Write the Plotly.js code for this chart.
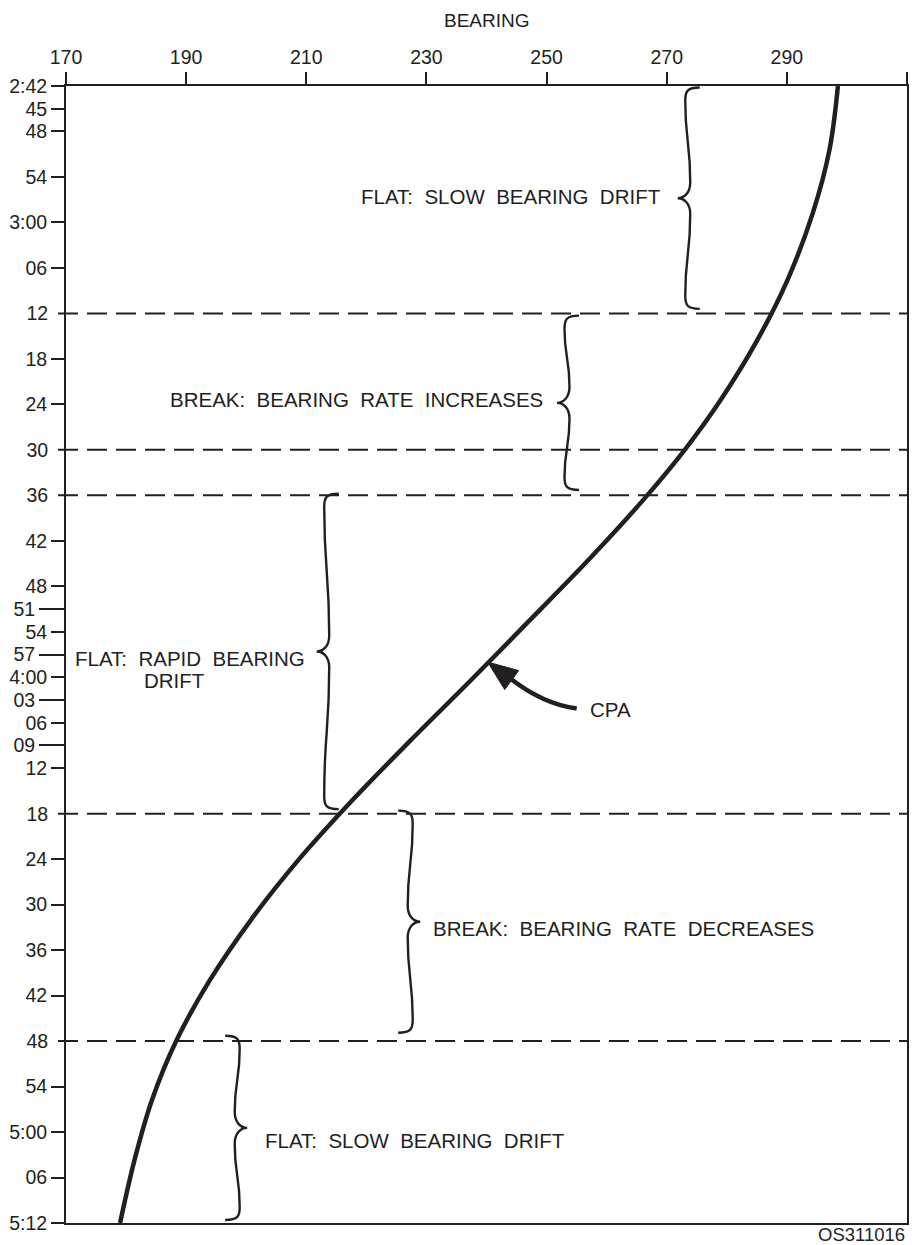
<!DOCTYPE html>
<html>
<head>
<meta charset="utf-8">
<script src="https://cdn.plot.ly/plotly-3.0.1.min.js"></script>
<style>html,body{margin:0;padding:0;background:#fff;}#chart{width:922px;height:1245px;}</style>
</head>
<body>
<div id="chart"></div>
<script>
// ---------- data ----------
// time in minutes after 2:42, bearing in degrees
const timeMin = [0, 8.4, 16.8, 25.6, 33.5, 41.4, 48.0, 54.6, 62.5, 70.4, 78.4, 86.3, 94.2, 102.1, 110.0, 117.9, 125.9, 133.8, 141.7, 150];
const bearing = [298.5, 297.1, 294.3, 290.1, 285.1, 279.0, 273.0, 266.1, 257.0, 247.3, 237.4, 227.4, 217.7, 208.7, 200.8, 194.0, 188.4, 184.3, 181.4, 179.0];

const bearingTicks = [170, 190, 210, 230, 250, 270, 290, 310];

const normalTickT = [0, 3, 6, 12, 18, 24, 36, 42, 60, 66, 72, 78, 84, 90, 102, 108, 114, 120, 132, 138, 144, 150];
const normalTickText = ['2:42', '45', '48', '54', '3:00', '06', '18', '24', '42', '48', '54', '4:00', '06', '12', '24', '30', '36', '42', '54', '5:00', '06', '5:12'];
const longTickT = [69, 75, 81, 87];
const longTickText = ['51', '57', '03', '09'];
const breakLineT = [30, 48, 54, 96, 126];
const breakLineText = ['12', '30', '36', '18', '48'];

// brackets: start / end time (min), spine bearing, tip direction
const braceStartT = [0.2, 30.3, 53.8, 95.6, 125.3];
const braceEndT = [29.4, 53.3, 95.4, 124.9, 149.6];
const braceSpineB = [273.5, 253.4, 213.4, 227.3, 198.5];
const braceTipDir = [-1, -1, -1, 1, 1];

const cpaT = 76, cpaB = 240.2;

// ---------- layout constants ----------
const W = 922, H = 1245;
const M = {l: 66, r: 15, t: 86, b: 22};
const plotW = W - M.l - M.r, plotH = H - M.t - M.b;
const PXB = plotW / 140;   // px per degree
const PXT = plotH / 150;   // px per minute
const dB = px => px / PXB;
const dT = px => px / PXT;
const INK = '#231f20';
const FONT = '"Liberation Sans", Arial, Helvetica, sans-serif';
const SP = '\u00a0 ';

function bracePath(t0, t1, s, dir) {
  const e = -dir * dB(12), d = dir * dB(10), b = dir * dB(2.5);
  const r = dT(13), rt = dT(16);
  const tm = (t0 + t1) / 2;
  const L1 = (tm - rt) - (t0 + r);
  const L2 = (t1 - r) - (tm + rt);
  return 'M' + (s + e) + ',' + t0 +
    ' C' + (s + e * 0.15 + b) + ',' + t0 + ' ' + (s + b) + ',' + (t0 + r * 0.3) + ' ' + (s + b) + ',' + (t0 + r) +
    ' C' + (s + b) + ',' + (t0 + r + L1 * 0.5) + ' ' + (s - b) + ',' + (tm - rt - L1 * 0.5) + ' ' + (s - b) + ',' + (tm - rt) +
    ' C' + (s - b) + ',' + (tm - rt * 0.3) + ' ' + (s + d * 0.4) + ',' + tm + ' ' + (s + d) + ',' + tm +
    ' C' + (s + d * 0.4) + ',' + tm + ' ' + (s - b) + ',' + (tm + rt * 0.3) + ' ' + (s - b) + ',' + (tm + rt) +
    ' C' + (s - b) + ',' + (tm + rt + L2 * 0.5) + ' ' + (s + b) + ',' + (t1 - r - L2 * 0.5) + ' ' + (s + b) + ',' + (t1 - r) +
    ' C' + (s + b) + ',' + (t1 - r * 0.3) + ' ' + (s + e * 0.15 + b) + ',' + t1 + ' ' + (s + e) + ',' + t1;
}

const shapes = [];
breakLineT.forEach(t => shapes.push({
  type: 'line', xref: 'paper', yref: 'y', x0: -8 / plotW, x1: 1, y0: t, y1: t,
  line: {color: INK, width: 2, dash: '20px,9px'}, layer: 'below'
}));
braceStartT.forEach((t0, i) => shapes.push({
  type: 'path', xref: 'x', yref: 'y',
  path: bracePath(t0, braceEndT[i], braceSpineB[i], braceTipDir[i]),
  line: {color: INK, width: 2.4}
}));

// CPA arrow (pixel offsets from the CPA point)
const P = (dx, dy) => (cpaB + dB(dx)) + ',' + (cpaT + dT(dy));
shapes.push({
  type: 'path', xref: 'x', yref: 'y',
  path: 'M' + P(0, 0) + ' L' + P(31, 8.5) + ' L' + P(17, 27.5) + ' Z',
  fillcolor: INK, line: {color: INK, width: 1}
});
shapes.push({
  type: 'path', xref: 'x', yref: 'y',
  path: 'M' + P(22, 16) + ' Q' + P(55, 42) + ' ' + P(89, 46.5),
  line: {color: INK, width: 4.5}
});

const tf = {family: FONT, size: 20.5, color: INK};
const ann = (x, y, text, xanchor, extra) => Object.assign({
  xref: 'x', yref: 'y', x: x, y: y, text: text, showarrow: false,
  xanchor: xanchor, yanchor: 'middle', font: tf
}, extra || {});

const annotations = [
  ann(269.4, 14.6, 'FLAT:' + SP + 'SLOW' + SP + 'BEARING' + SP + 'DRIFT', 'right'),
  ann(249.7, 41.4, 'BREAK:' + SP + 'BEARING' + SP + 'RATE' + SP + 'INCREASES', 'right'),
  ann(210.1, 75.5, 'FLAT:' + SP + 'RAPID' + SP + 'BEARING', 'right'),
  ann(182.6, 78.4, 'DRIFT', 'left'),
  ann(230.8, 111.1, 'BREAK:' + SP + 'BEARING' + SP + 'RATE' + SP + 'DECREASES', 'left'),
  ann(202.8, 139.1, 'FLAT:' + SP + 'SLOW' + SP + 'BEARING' + SP + 'DRIFT', 'left'),
  ann(256.9, 82.2, 'CPA', 'left'),
  {xref: 'paper', yref: 'paper', x: 0.5, y: 1, yshift: 66, text: 'BEARING', showarrow: false,
   xanchor: 'center', yanchor: 'middle', font: {family: FONT, size: 19, color: INK}},
  {xref: 'paper', yref: 'paper', x: 1, y: 0, yshift: -11, text: 'OS311016', showarrow: false,
   xanchor: 'right', yanchor: 'middle', font: {family: FONT, size: 18.5, color: INK}}
];

const yBase = {
  range: [150, 0], autorange: false, showgrid: false, zeroline: false,
  tickmode: 'array', ticks: 'outside', tickwidth: 2, tickcolor: INK,
  tickfont: {family: FONT, size: 19.5, color: INK}, fixedrange: true
};

const layout = {
  width: W, height: H, margin: M, paper_bgcolor: '#fff', plot_bgcolor: '#fff',
  showlegend: false, hovermode: false,
  xaxis: {
    side: 'top', range: [170, 310], autorange: false, tickmode: 'array', tickvals: bearingTicks,
    ticks: 'outside', ticklen: 12, tickwidth: 2, tickcolor: INK,
    showline: true, linewidth: 2, linecolor: INK, mirror: true,
    showgrid: false, zeroline: false, tickfont: {family: FONT, size: 19.5, color: INK}, fixedrange: true
  },
  yaxis: Object.assign({}, yBase, {
    tickvals: normalTickT, ticktext: normalTickText, ticklen: 13,
    showline: true, linewidth: 2, linecolor: INK, mirror: true
  }),
  yaxis2: Object.assign({}, yBase, {
    overlaying: 'y', side: 'left', anchor: 'x', showline: false,
    tickvals: longTickT, ticktext: longTickText, ticklen: 26
  }),
  yaxis3: Object.assign({}, yBase, {
    overlaying: 'y', side: 'left', anchor: 'x', showline: false,
    tickvals: breakLineT, ticktext: breakLineText, ticklen: 13, tickcolor: 'rgba(0,0,0,0)'
  }),
  shapes: shapes,
  annotations: annotations
};

const traces = [
  {x: bearing, y: timeMin, type: 'scatter', mode: 'lines', line: {color: INK, width: 4.5, shape: 'spline', smoothing: 1}, xaxis: 'x', yaxis: 'y'},
  {x: [], y: [], type: 'scatter', mode: 'lines', xaxis: 'x', yaxis: 'y2', hoverinfo: 'skip'},
  {x: [], y: [], type: 'scatter', mode: 'lines', xaxis: 'x', yaxis: 'y3', hoverinfo: 'skip'}
];

Plotly.newPlot('chart', traces, layout, {staticPlot: true, displayModeBar: false});
</script>
</body>
</html>
